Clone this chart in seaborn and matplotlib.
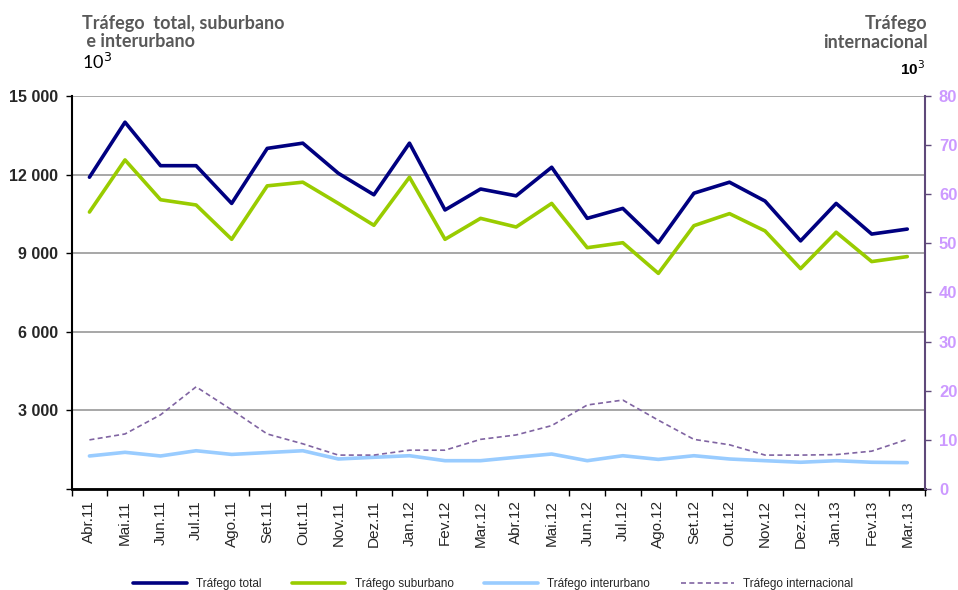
import numpy as np
import pandas as pd
import seaborn as sns
import matplotlib.pyplot as plt
from matplotlib.ticker import FuncFormatter, MultipleLocator

# Data (10^3)
months = ["Abr.11", "Mai.11", "Jun.11", "Jul.11", "Ago.11", "Set.11", "Out.11", "Nov.11",
          "Dez.11", "Jan.12", "Fev.12", "Mar.12", "Abr.12", "Mai.12", "Jun.12", "Jul.12",
          "Ago.12", "Set.12", "Out.12", "Nov.12", "Dez.12", "Jan.13", "Fev.13", "Mar.13"]
total = [11900, 14000, 12340, 12340, 10900, 13000, 13200, 12050, 11230, 13200, 10650, 11450,
         11190, 12280, 10330, 10710, 9400, 11290, 11710, 10990, 9470, 10900, 9730, 9920]
suburbano = [10570, 12560, 11040, 10840, 9530, 11570, 11710, 10900, 10065, 11900, 9530, 10330,
             10000, 10900, 9210, 9400, 8230, 10050, 10510, 9850, 8410, 9800, 8680, 8870]
interurbano = [1260, 1400, 1260, 1460, 1320, 1390, 1460, 1145, 1210, 1270, 1080, 1080,
               1210, 1335, 1080, 1270, 1130, 1270, 1145, 1080, 1020, 1080, 1020, 1005]
internacional = [10.0, 11.2, 15.1, 20.8, 16.1, 11.2, 9.2, 6.9, 6.9, 7.9, 7.9, 10.1,
                 11.0, 12.9, 17.1, 18.1, 14.0, 10.1, 9.0, 6.9, 6.9, 7.0, 7.7, 10.1]

df = pd.DataFrame({"pos": np.arange(len(months)), "total": total, "suburbano": suburbano,
                   "interurbano": interurbano, "internacional": internacional})

sns.set_style("white")
plt.rcParams["font.family"] = ["Liberation Sans", "DejaVu Sans"]

fig = plt.figure(figsize=(9.58, 5.9), dpi=100)
ax = fig.add_axes([0.0748, 0.1712, 0.8908, 0.6661])
ax2 = ax.twinx()

sns.lineplot(data=df, x="pos", y="total", ax=ax, color="#000080", lw=2.6, label="Tráfego total", legend=False)
sns.lineplot(data=df, x="pos", y="suburbano", ax=ax, color="#99CC00", lw=2.6, label="Tráfego suburbano", legend=False)
sns.lineplot(data=df, x="pos", y="interurbano", ax=ax, color="#99CCFF", lw=2.6, label="Tráfego interurbano", legend=False)
sns.lineplot(data=df, x="pos", y="internacional", ax=ax2, color="#8064A2", lw=1.2,
             linestyle=(0, (3, 2)), label="Tráfego internacional", legend=False)

# left axis
ax.set_xlim(-0.5, len(months) - 0.5)
ax.set_ylim(0, 15000)
ax.set_yticks(np.arange(0, 15001, 3000))
ax.yaxis.set_major_formatter(FuncFormatter(lambda v, p: "" if v == 0 else f"{int(v):,}".replace(",", " ")))
ax.grid(axis="y", color="#A0A0A0", lw=1.3)
ax.grid(axis="x", visible=False)
ax.set_axisbelow(True)
ax.set_xlabel("")
ax.set_ylabel("")
ax.set_xticks(np.arange(len(months)))
ax.set_xticklabels(months, rotation=90, fontsize=11)
ax.xaxis.set_minor_locator(MultipleLocator(1, offset=0.5))
ax.tick_params(axis="x", which="major", length=0, pad=8)
ax.tick_params(axis="x", which="minor", length=5, width=1, color="black", direction="out", bottom=True)
ax.tick_params(axis="y", length=4, width=1, color="black", direction="out", left=True,
               labelsize=11.5, pad=6)
for lab in ax.get_yticklabels():
    lab.set_fontweight("bold")
for s in ["top", "right"]:
    ax.spines[s].set_visible(False)
ax.spines["left"].set_color("black")
ax.spines["left"].set_linewidth(1.5)
ax.spines["bottom"].set_color("black")
ax.spines["bottom"].set_linewidth(2)

# right axis
ax2.set_ylim(0, 80)
ax2.set_yticks(np.arange(0, 81, 10))
ax2.set_ylabel("")
ax2.grid(False)
ax2.tick_params(axis="y", length=4, width=1, color="#5F497A", direction="out", right=True,
                labelsize=12, labelcolor="#CC99FF", pad=6)
for lab in ax2.get_yticklabels():
    lab.set_fontweight("bold")
for s in ["top", "left", "bottom"]:
    ax2.spines[s].set_visible(False)
ax2.spines["right"].set_color("#5F497A")
ax2.spines["right"].set_linewidth(1.5)

# titles
fig.text(0.086, 0.975, "Tráfego  total, suburbano\n e interurbano", ha="left", va="top",
         fontsize=13, fontweight="bold", color="#595959", family=["Lato", "DejaVu Sans"],
         linespacing=1.1)
fig.text(0.086, 0.912, "10$^3$", ha="left", va="top", fontsize=13, color="black",
         family=["Lato", "DejaVu Sans"])
fig.text(0.968, 0.975, "Tráfego\ninternacional", ha="right", va="top", fontsize=13,
         fontweight="bold", color="#595959", family=["Lato", "DejaVu Sans"], linespacing=1.15)
fig.text(0.966, 0.9, "10$^3$", ha="right", va="top", fontsize=11, fontweight="bold", color="black")

# legend
h1, l1 = ax.get_legend_handles_labels()
h2, l2 = ax2.get_legend_handles_labels()
fig.legend(h1 + h2, l1 + l2, loc="lower center", bbox_to_anchor=(0.515, -0.018), ncol=4,
           frameon=False, handlelength=4.5, columnspacing=2.6,
           prop={"family": ["Liberation Sans Narrow", "Liberation Sans"], "size": 8.5})

fig.savefig("out.png", dpi=100)
